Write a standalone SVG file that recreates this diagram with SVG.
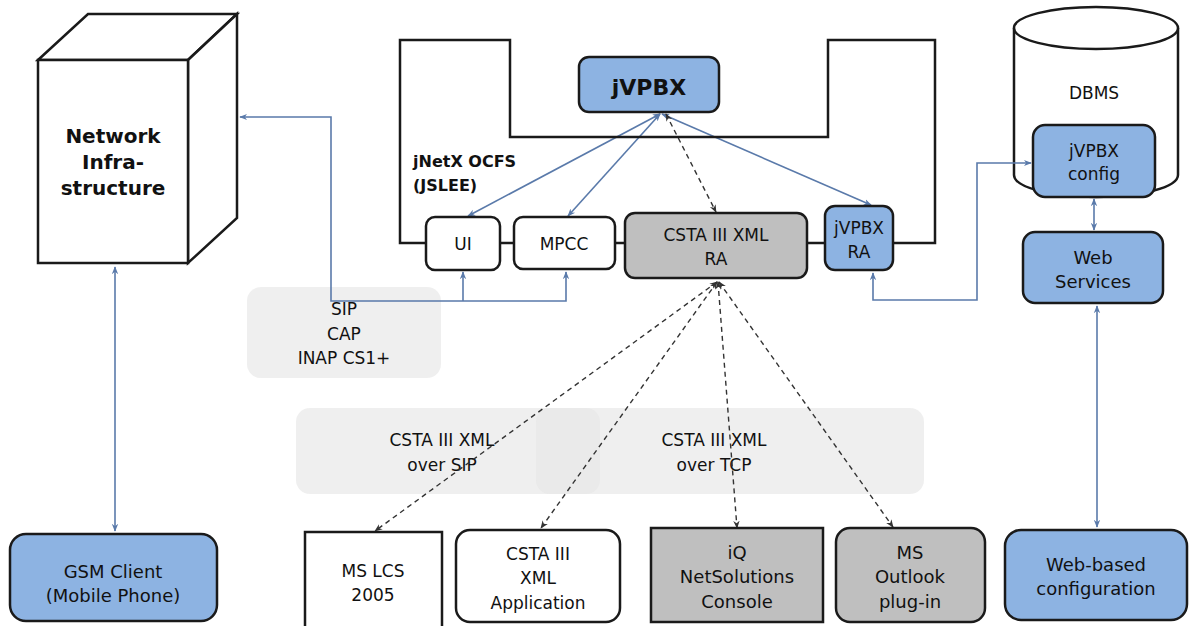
<svg xmlns="http://www.w3.org/2000/svg" width="1192" height="626" viewBox="0 0 1192 626">
<defs>
<style>
.t{font-family:"DejaVu Sans","Verdana",sans-serif;fill:#111;text-anchor:middle}
.b{font-weight:bold}
.box{stroke:#1a1a1a;stroke-width:2.5}
.blue{fill:#8db3e2}
.gray{fill:#bfbfbf}
.white{fill:#fff}
.region{fill:#e6e6e6;fill-opacity:0.65}
.c{fill:none;stroke:#5a7aaa;stroke-width:1.6}
.d{fill:none;stroke:#333;stroke-width:1.4;stroke-dasharray:5 4}
</style>
<marker id="ab" viewBox="0 0 10 10" refX="9" refY="5" markerWidth="8" markerHeight="8" orient="auto-start-reverse" markerUnits="userSpaceOnUse"><path d="M0,1 L10,5 L0,9 L3,5 Z" fill="#5a7aaa"/></marker>
<marker id="ad" viewBox="0 0 10 10" refX="9" refY="5" markerWidth="8" markerHeight="8" orient="auto-start-reverse" markerUnits="userSpaceOnUse"><path d="M0,1 L10,5 L0,9 L3,5 Z" fill="#333"/></marker>
</defs>
<rect width="1192" height="626" fill="#fff"/>

<g id="regions">
<rect x="247" y="287" width="194" height="91" rx="14" class="region"/>
<rect x="296" y="408" width="304" height="86" rx="14" class="region"/>
<rect x="536" y="408" width="388" height="86" rx="14" class="region"/>
<text class="t" font-size="17" x="344" y="315">SIP</text>
<text class="t" font-size="17" x="344" y="340">CAP</text>
<text class="t" font-size="17" x="344" y="364">INAP CS1+</text>
<text class="t" font-size="17" x="442" y="446">CSTA III XML</text>
<text class="t" font-size="17" x="442" y="471">over SIP</text>
<text class="t" font-size="17" x="714" y="446">CSTA III XML</text>
<text class="t" font-size="17" x="714" y="471">over TCP</text>
</g>

<g id="dbms">
<path d="M1014,28 L1014,175 A82,22 0 0 0 1178,175 L1178,28" fill="#fff" class="box"/>
<ellipse cx="1096" cy="28" rx="82" ry="21" fill="#fff" class="box"/>
<text class="t" font-size="17" x="1094" y="99">DBMS</text>
</g>

<g id="connectors">
<line x1="115" y1="267" x2="115" y2="531" class="c" marker-start="url(#ab)" marker-end="url(#ab)"/>
<line x1="660" y1="114" x2="468" y2="216" class="c" marker-start="url(#ab)" marker-end="url(#ab)"/>
<line x1="660" y1="114" x2="568" y2="216" class="c" marker-start="url(#ab)" marker-end="url(#ab)"/>
<line x1="662" y1="114" x2="871" y2="205" class="c" marker-start="url(#ab)" marker-end="url(#ab)"/>
<line x1="666" y1="114" x2="716" y2="212" class="d" marker-start="url(#ad)" marker-end="url(#ad)"/>
<polyline points="566,272 566,301 331,301 331,117 240,117" class="c" marker-start="url(#ab)" marker-end="url(#ab)"/>
<polyline points="463,301 463,272" class="c" marker-end="url(#ab)"/>
<polyline points="873,273 873,300 977,300 977,163 1031,163" class="c" marker-start="url(#ab)" marker-end="url(#ab)"/>
<line x1="1094" y1="199" x2="1094" y2="230" class="c" marker-start="url(#ab)" marker-end="url(#ab)"/>
<line x1="1097" y1="306" x2="1097" y2="527" class="c" marker-start="url(#ab)" marker-end="url(#ab)"/>
<line x1="717" y1="282" x2="375" y2="531" class="d" marker-start="url(#ad)" marker-end="url(#ad)"/>
<line x1="717" y1="282" x2="541" y2="528" class="d" marker-start="url(#ad)" marker-end="url(#ad)"/>
<line x1="718" y1="282" x2="737" y2="528" class="d" marker-start="url(#ad)" marker-end="url(#ad)"/>
<line x1="719" y1="282" x2="893" y2="527" class="d" marker-start="url(#ad)" marker-end="url(#ad)"/>
</g>

<g id="network">
<path d="M38,60 L88,14 L237,14 L188,60 Z" fill="#fff" class="box"/>
<path d="M188,60 L237,14 L237,218 L188,263 Z" fill="#fff" class="box"/>
<rect x="38" y="60" width="150" height="203" fill="#fff" class="box"/>
<text class="t b" font-size="20" x="113" y="143">Network</text>
<text class="t b" font-size="20" x="113" y="169">Infra-</text>
<text class="t b" font-size="20" x="113" y="195">structure</text>
</g>

<g id="gsm">
<rect x="10" y="534" width="207" height="87" rx="16" class="box blue"/>
<text class="t" font-size="18" x="113" y="578">GSM Client</text>
<text class="t" font-size="18" x="113" y="602">(Mobile Phone)</text>
</g>

<g id="ocfs">
<path d="M400,243 L400,40 L510,40 L510,137 L828,137 L828,40 L935,40 L935,243 Z" fill="none" stroke="#1a1a1a" stroke-width="2.5"/>
<text class="t b" font-size="16" x="413" y="167" style="text-anchor:start">jNetX OCFS</text>
<text class="t b" font-size="16" x="413" y="191" style="text-anchor:start">(JSLEE)</text>
</g>

<g id="jvpbx">
<rect x="579" y="57" width="140" height="55" rx="10" class="box blue"/>
<text class="t b" font-size="22" x="649" y="95">jVPBX</text>
</g>

<g id="ui">
<rect x="426" y="217" width="74" height="53" rx="9" class="box white"/>
<text class="t" font-size="17" x="463" y="250">UI</text>
</g>

<g id="mpcc">
<rect x="514" y="217" width="101" height="52" rx="9" class="box white"/>
<text class="t" font-size="17" x="564" y="250">MPCC</text>
</g>

<g id="csta-ra">
<rect x="625" y="213" width="182" height="65" rx="10" class="box gray"/>
<text class="t" font-size="17" x="716" y="241">CSTA III XML</text>
<text class="t" font-size="17" x="716" y="265">RA</text>
</g>

<g id="jvpbx-ra">
<rect x="825" y="206" width="68" height="64" rx="10" class="box blue"/>
<text class="t" font-size="17" x="859" y="234">jVPBX</text>
<text class="t" font-size="17" x="859" y="258">RA</text>
</g>

<g id="jvpbx-config">
<rect x="1033" y="125" width="122" height="72" rx="12" class="box blue"/>
<text class="t" font-size="17" x="1094" y="157">jVPBX</text>
<text class="t" font-size="17" x="1094" y="180">config</text>
</g>

<g id="web-services">
<rect x="1023" y="232" width="140" height="71" rx="12" class="box blue"/>
<text class="t" font-size="18" x="1093" y="264">Web</text>
<text class="t" font-size="18" x="1093" y="288">Services</text>
</g>

<g id="ms-lcs">
<rect x="305" y="532" width="137" height="100" class="box white"/>
<text class="t" font-size="17" x="373" y="577">MS LCS</text>
<text class="t" font-size="17" x="373" y="601">2005</text>
</g>

<g id="csta-app">
<rect x="456" y="530" width="164" height="92" rx="14" class="box white"/>
<text class="t" font-size="17" x="538" y="560">CSTA III</text>
<text class="t" font-size="17" x="538" y="584">XML</text>
<text class="t" font-size="17" x="538" y="609">Application</text>
</g>

<g id="iq">
<rect x="651" y="528" width="172" height="94" class="box gray"/>
<text class="t" font-size="18" x="737" y="559">iQ</text>
<text class="t" font-size="18" x="737" y="583">NetSolutions</text>
<text class="t" font-size="18" x="737" y="608">Console</text>
</g>

<g id="outlook">
<rect x="836" y="528" width="149" height="94" rx="14" class="box gray"/>
<text class="t" font-size="18" x="910" y="559">MS</text>
<text class="t" font-size="18" x="910" y="583">Outlook</text>
<text class="t" font-size="18" x="910" y="608">plug-in</text>
</g>

<g id="web-config">
<rect x="1005" y="530" width="182" height="90" rx="16" class="box blue"/>
<text class="t" font-size="18" x="1096" y="571">Web-based</text>
<text class="t" font-size="18" x="1096" y="595">configuration</text>
</g>
</svg>
